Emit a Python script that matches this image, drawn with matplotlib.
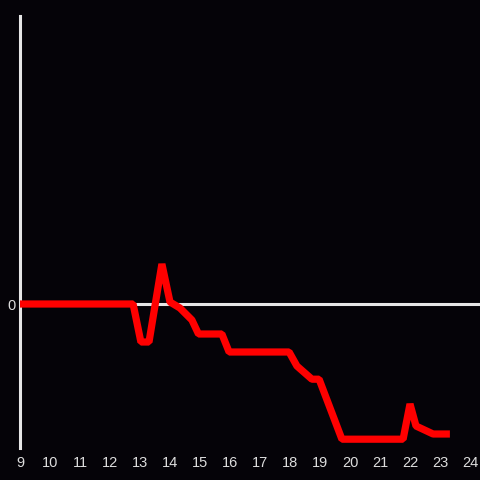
import matplotlib
matplotlib.use("Agg")
import matplotlib.pyplot as plt

hours = [9.0, 12.77, 13.03, 13.3, 13.73, 14.0, 14.33, 14.73, 14.95, 15.73, 15.97,
         17.97, 18.23, 18.73, 18.97, 19.73, 21.77, 22.0, 22.2, 22.77, 23.33]
values = [0, 0, -9.5, -9.5, 10, 0.5, -1, -4, -7.5, -7.5, -12,
          -12, -15.5, -18.8, -18.8, -33.8, -33.8, -25, -30.5, -32.5, -32.5]
x_ticks = list(range(9, 25))

bg = "#050308"
fig = plt.figure(figsize=(4.8, 4.8), dpi=100, facecolor=bg)
ax = fig.add_axes([20/480, 32/480, 460/480, 432/480], facecolor=bg)

ax.axhline(0, color="#e6e6e6", lw=2.2, zorder=1)
ax.plot(hours, values, color="#ff0000", lw=5.2, solid_joinstyle="bevel",
        solid_capstyle="butt", zorder=3)

ax.set_xlim(9, 9 + 460/30)
ax.set_ylim(-36, 72)
ax.set_xticks(x_ticks)
ax.set_xticklabels([str(t) for t in x_ticks])
ax.set_yticks([0])
ax.set_yticklabels(["0"])
ax.tick_params(length=0, colors="#dddddd", labelsize=10.5, pad=6,
               labelfontfamily="Liberation Sans")
ax.tick_params(axis="y", pad=3)
for s in ["top", "right", "bottom"]:
    ax.spines[s].set_visible(False)
ax.spines["left"].set_color("#e6e6e6")
ax.spines["left"].set_linewidth(2.2)

fig.savefig("out.png", dpi=100, facecolor=bg)
